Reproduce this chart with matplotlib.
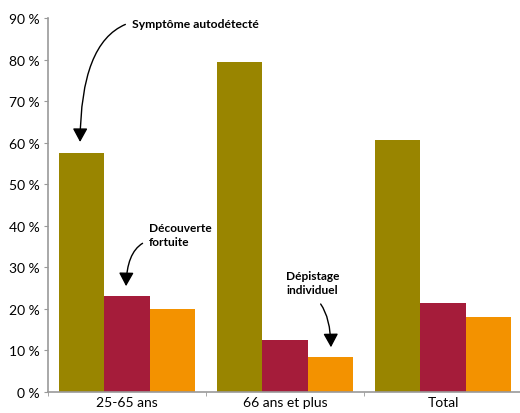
import matplotlib
matplotlib.use("Agg")
import matplotlib.pyplot as plt
import numpy as np
from matplotlib.patches import FancyArrowPatch
from matplotlib.ticker import MultipleLocator, FuncFormatter, FixedLocator

categories = ["25-65 ans", "66 ans et plus", "Total"]
symptome = [57.5, 79.3, 60.7]
decouverte = [23.2, 12.6, 21.4]
depistage = [20.0, 8.4, 18.1]
series_names = ["Symptôme autodétecté", "Découverte fortuite", "Dépistage individuel"]
colors = ["#998500", "#A51C3A", "#F39200"]

plt.rcParams['font.family'] = ['Lato', 'DejaVu Sans']

fig = plt.figure(figsize=(5.2, 4.14), dpi=100)
ax = fig.add_axes([48/520, 21/414, 474/520, 374/414])

x = np.arange(len(categories))
w = 0.287
for i, (vals, c) in enumerate(zip([symptome, decouverte, depistage], colors)):
    ax.bar(x + (i - 1) * w, vals, width=w, color=c, edgecolor='none', zorder=2)

ax.set_xlim(-0.5, 2.5)
ax.set_ylim(0, 90)
ax.yaxis.set_major_locator(MultipleLocator(10))
ax.yaxis.set_major_formatter(FuncFormatter(lambda v, p: f"{int(v)} %"))
ax.set_xticks(x)
ax.set_xticklabels(categories)
ax.xaxis.set_minor_locator(FixedLocator([-0.5, 0.5, 1.5, 2.5]))

for s in ['top', 'right']:
    ax.spines[s].set_visible(False)
for s in ['left', 'bottom']:
    ax.spines[s].set_color('#999999')
    ax.spines[s].set_linewidth(1.2)

ax.tick_params(axis='y', which='major', length=3, color='#999999', labelsize=10, labelcolor='black', pad=3)
ax.tick_params(axis='x', which='major', length=0, labelsize=10, labelcolor='black', pad=3)
ax.tick_params(axis='x', which='minor', length=3, color='#999999')

head = '-|>,head_length=5.5,head_width=3'

# annotations
ax.text(0.03, 88.7, series_names[0], fontsize=8.7, fontweight='bold', va='center', ha='left')
a1 = FancyArrowPatch((0.006, 88.7), (-0.297, 59.5),
                     connectionstyle="angle3,angleA=20,angleB=90",
                     arrowstyle=head, mutation_scale=1.5,
                     color='black', lw=1.0, zorder=5)
ax.add_patch(a1)

ax.text(0.14, 37.9, "Découverte\nfortuite", fontsize=8.6, fontweight='bold', va='center', ha='left',
        linespacing=1.35)
a2 = FancyArrowPatch((0.114, 36.1), (-0.006, 24.8),
                     connectionstyle="angle3,angleA=25,angleB=90",
                     arrowstyle=head, mutation_scale=1.5,
                     color='black', lw=1.0, zorder=5)
ax.add_patch(a2)

ax.text(1.175, 26.3, "Dépistage\nindividuel", fontsize=8.6, fontweight='bold', va='center', ha='center',
        linespacing=1.35)
a3 = FancyArrowPatch((1.215, 21.7), (1.291, 10.1),
                     connectionstyle="angle3,angleA=-50,angleB=90",
                     arrowstyle=head, mutation_scale=1.5,
                     color='black', lw=1.0, zorder=5)
ax.add_patch(a3)

fig.savefig("out.png", dpi=100)
